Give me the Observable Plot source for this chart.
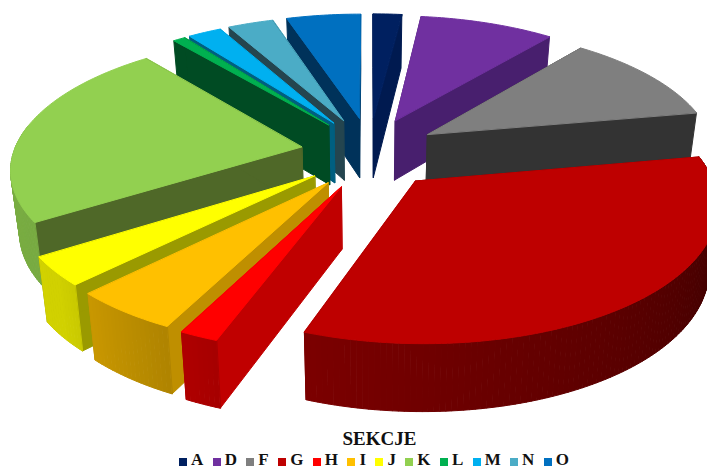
<!DOCTYPE html>
<html><head><meta charset="utf-8">
<script src="https://cdn.jsdelivr.net/npm/d3@7"></script>
<script src="https://cdn.jsdelivr.net/npm/@observablehq/plot@0.6"></script>
<style>
html,body{margin:0;padding:0;background:#fff;overflow:hidden}
#t{font:bold 19px "Liberation Serif";text-align:center;position:absolute;top:429px;left:0;width:759px;line-height:20px;color:#111}
#l{position:absolute;top:450px;left:179px;display:flex;font:bold 17px "Liberation Serif";line-height:19px;color:#111;white-space:nowrap}
#l span.i{display:flex;align-items:center;margin-right:9.4px}
#l i{display:block;width:8px;height:8px;margin-right:4px;position:relative;top:2px}
svg{display:block;position:absolute;left:0;top:0}
</style></head><body>
<div id="c"></div><div id="t">SEKCJE</div><div id="l"></div>
<script>
const categories = ["A","D","F","G","H","I","J","K","L","M","N","O"];
const values     = [1.9,8.9,11.3,33.4,1.8,5.0,3.45,23.25,0.8,2.2,3.0,4.9];
const topColors  = ["#002060","#7030A0","#7F7F7F","#BE0000","#FF0000","#FFC000","#FFFF00","#92D050","#00B050","#00B0F0","#4BACC6","#0070C0"];
const sideColors = ["#001A50","#481F6E","#333333","#800000","#C00000","#BF8F00","#9A9A00","#4F6828","#004B23","#005F80","#24454F","#00325A"];
const drawOrder  = ["A","D","O","N","M","L","F","K","J","I","H","G"];

// projection of the tilted, exploded pie
const cx = 369, cy = 152, Rx = 288, Ry = 129, persp = 0.149, ex = 0.24, ey = 0.28;
const rad = d => d * Math.PI / 180;
const total = d3.sum(values);
function project(X, Y, low) {
  const s = 1 / (1 + persp * Y);
  let x = cx + Rx * X * s, y = cy - Ry * Y * s;
  if (low) { y += 61 - 5.7 * Y; x = cx + (x - cx) * 0.975; }
  return [x, y];
}
const wallShade = d3.scaleLinear().domain([90,200,230,320]).range([0.3,0.65,0.82,0.85]).clamp(true);
const rows = [];
let face = 0;
function poly(pts, color) {
  face++;
  for (const [x, y] of pts) rows.push({x, y, face, color});
}
let acc = 0;
const slices = categories.map((c, i) => {
  const a0 = acc / total * 360; acc += values[i];
  const a1 = acc / total * 360;
  return {c, i, a0, a1};
});
for (const c of drawOrder) {
  const {i, a0, a1} = slices.find(d => d.c === c);
  const mid = rad((a0 + a1) / 2);
  const ax = ex * Math.sin(mid), ay = ey * Math.cos(mid);
  const rim = a => [ax + Math.sin(rad(a)), ay + Math.cos(rad(a))];
  const apexT = project(ax, ay, false), apexB = project(ax, ay, true);
  // side faces
  for (const a of [a0, a1]) {
    const [X, Y] = rim(a);
    poly([apexT, project(X, Y, false), project(X, Y, true), apexB], sideColors[i]);
  }
  // outer wall, shaded by angle: only the part that faces the viewer
  const base = d3.rgb(topColors[i]);
  const steps = Math.max(2, Math.ceil(a1 - a0));
  for (let k = 0; k < steps; k++) {
    const b0 = a0 + (a1 - a0) * k / steps, b1 = a0 + (a1 - a0) * (k + 1) / steps;
    const m = (b0 + b1) / 2;
    if (m < 80 || m > 280) continue;
    const sh = wallShade(m);
    const [X0, Y0] = rim(b0), [X1, Y1] = rim(b1);
    poly([project(X0, Y0, false), project(X1, Y1, false), project(X1, Y1, true), project(X0, Y0, true)],
         d3.rgb(base.r * sh, base.g * sh, base.b * sh).formatHex());
  }
  // top face
  const pts = [apexT];
  for (let k = 0; k <= steps; k++) {
    const [X, Y] = rim(a0 + (a1 - a0) * k / steps);
    pts.push(project(X, Y, false));
  }
  poly(pts, topColors[i]);
}
const chart = Plot.plot({
  width: 707, height: 430,
  margin: 0,
  x: {type: "linear", domain: [0, 707], range: [0, 707], axis: null},
  y: {type: "linear", domain: [0, 430], range: [0, 430], axis: null},
  color: {type: "identity"},
  marks: [
    Plot.line(rows, {x: "x", y: "y", z: "face", fill: "color", stroke: "color", strokeWidth: 1, curve: "linear-closed"})
  ]
});
document.getElementById("c").append(chart);
const l = d3.select("#l");
categories.forEach((c, i) => {
  const s = l.append("span").attr("class", "i");
  s.append("i").style("background", topColors[i]);
  s.append("span").text(c);
});
</script>
</body></html>
